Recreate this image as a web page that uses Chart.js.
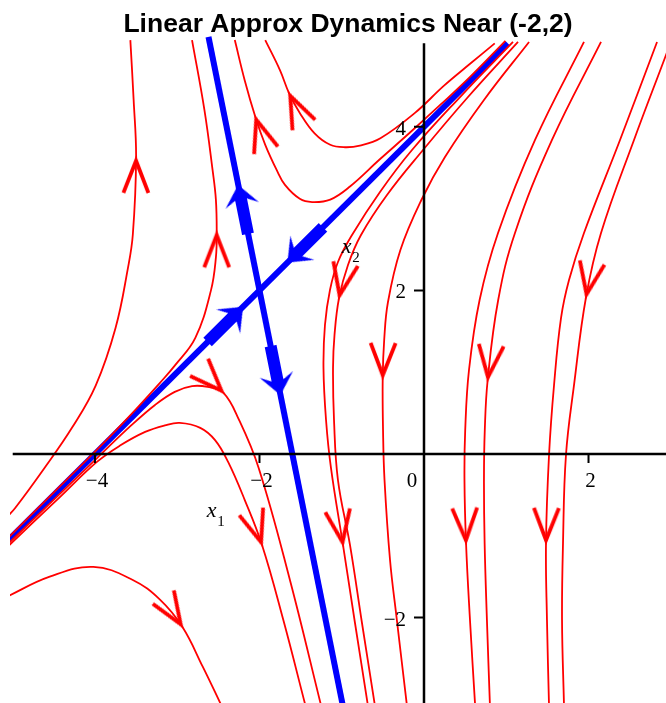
<!DOCTYPE html>
<html>
<head>
<meta charset="utf-8">
<title>Linear Approx Dynamics Near (-2,2)</title>
<script src="https://cdn.jsdelivr.net/npm/chart.js@4.4.0/dist/chart.umd.min.js"></script>
<style>
  html, body { margin: 0; padding: 0; background: #fff; overflow: hidden; }
  canvas { display: block; }
</style>
</head>
<body>
<canvas id="phase" width="666" height="703"></canvas>
<script>
const title = 'Linear Approx Dynamics Near (-2,2)';

// visible window and axis extents
const xView = [-5.033, 2.942];
const yView = [-3.044, 5.11];
const xAxisSpan = [-5, 2.942];
const yAxisSpan = [-3.044, 5.02];
const xTicks = [-4, -2, 0, 2];
const yTicks = [-2, 2, 4];
const x1LabelAt = [-2.64, -0.77];
const x2LabelAt = [-1.0, 2.46];

// separatrices through the saddle (-2,2), each half listed in the direction of flow
const stableFromLeft = [[-5.1, -1.1], [-2, 2]];
const stableFromRight = [[1.02, 5.02], [-2, 2]];
const unstableUp = [[-2, 2], [-2.62, 5.1]];
const unstableDown = [[-2, 2], [-0.99, -3.06]];

// trajectories, points listed in the direction of flow
const c1 = [[-5.08, -0.78], [-4.97, -0.66], [-4.62, -0.18], [-4.28, 0.32], [-3.99, 0.84], [-3.75, 1.54], [-3.6, 2.27], [-3.54, 2.68], [-3.5, 3.62], [-3.53, 4.33], [-3.57, 5.06]];
const c2 = [[-5.1, -1.07], [-4.5, -0.47], [-3.9, 0.13], [-3.5, 0.55], [-3.21, 0.87], [-3.03, 1.08], [-2.78, 1.42], [-2.59, 2.0], [-2.53, 2.4], [-2.52, 2.71], [-2.53, 3.11], [-2.57, 3.47], [-2.67, 4.21], [-2.82, 5.06]];
const u1 = [[0.99, 5.05], [0.56, 4.61], [0.2, 4.27], [-0.17, 3.93], [-0.54, 3.6], [-0.9, 3.27], [-1.14, 3.11], [-1.36, 3.08], [-1.51, 3.12], [-1.69, 3.29], [-1.79, 3.47], [-1.93, 3.78], [-2.05, 4.12], [-2.18, 4.57], [-2.3, 5.06]];
const u2 = [[0.86, 5.02], [0.56, 4.77], [0.24, 4.5], [-0.11, 4.17], [-0.53, 3.86], [-0.78, 3.77], [-0.96, 3.75], [-1.14, 3.78], [-1.33, 3.92], [-1.51, 4.17], [-1.64, 4.41], [-1.75, 4.69], [-1.93, 5.06]];
const r1a = [[1.082, 5.037], [0.438, 4.364], [-0.146, 3.716], [-0.535, 3.203], [-0.875, 2.677], [-1.046, 2.347], [-1.143, 2.005], [-1.204, 1.577], [-1.222, 1.051], [-1.191, 0.416], [-1.131, -0.171], [-0.985, -1.112], [-0.839, -2.066], [-0.681, -3.08]];
const r1b = [[1.143, 5.037], [0.535, 4.364], [-0.012, 3.716], [-0.45, 3.166], [-0.766, 2.677], [-0.924, 2.311], [-1.033, 1.907], [-1.088, 1.455], [-1.106, 1.051], [-1.094, 0.416], [-1.046, -0.318], [-0.9, -1.112], [-0.754, -2.066], [-0.596, -3.08]];
const r2 = [[1.277, 5.037], [0.729, 4.328], [0.255, 3.631], [-0.032, 3.105], [-0.287, 2.494], [-0.438, 1.858], [-0.484, 1.394], [-0.502, 0.929], [-0.498, 0.293], [-0.48, -0.318], [-0.413, -1.296], [-0.334, -1.993], [-0.207, -3.08]];
const r3 = [[1.945, 5.037], [1.35, 3.839], [0.9, 2.702], [0.676, 1.883], [0.547, 1.027], [0.501, 0.293], [0.492, -0.318], [0.511, -1.088], [0.559, -2.029], [0.622, -3.08]];
const r4 = [[2.152, 5.037], [1.556, 3.839], [1.106, 2.702], [0.902, 1.883], [0.774, 0.905], [0.739, 0.293], [0.729, -0.318], [0.737, -1.088], [0.765, -2.029], [0.802, -3.08]];
const r5 = [[2.833, 5.037], [2.383, 3.839], [1.945, 2.702], [1.763, 2.127], [1.666, 1.663], [1.581, 0.844], [1.52, -0.012], [1.483, -1.088], [1.495, -2.029], [1.52, -3.08]];
const r6 = [[3.1, 5.306], [2.942, 4.878], [2.553, 3.839], [2.152, 2.702], [1.97, 1.919], [1.824, 0.844], [1.726, -0.012], [1.69, -1.088], [1.678, -2.029], [1.702, -3.08]];
const l1 = [[-5.08, -1.75], [-4.55, -1.5], [-4.02, -1.38], [-3.54, -1.54], [-3.21, -1.78], [-2.94, -2.11], [-2.69, -2.6], [-2.46, -3.08]];
const l2 = [[-5.08, -1.15], [-4.43, -0.53], [-3.98, -0.1], [-3.7, 0.1], [-3.39, 0.27], [-3.15, 0.35], [-2.97, 0.38], [-2.72, 0.32], [-2.54, 0.17], [-2.38, -0.1], [-2.18, -0.56], [-1.97, -1.11], [-1.71, -2.03], [-1.44, -3.08]];
const l3 = [[-5.08, -1.12], [-4.43, -0.49], [-3.975, -0.05], [-3.57, 0.34], [-3.27, 0.6], [-3.03, 0.76], [-2.82, 0.83], [-2.63, 0.82], [-2.44, 0.75], [-2.25, 0.42], [-2.01, -0.17], [-1.63, -1.54], [-1.25, -3.08]];

// arrowhead tips (each one sits on a curve; it points along the flow there)
const redArrowTips = [[-3.5, 3.62], [-2.52, 2.71], [-2.05, 4.12], [-1.64, 4.41], [-0.985, -1.112], [-1.033, 1.907], [-0.502, 0.929], [0.511, -1.088], [0.774, 0.905], [1.483, -1.088], [1.97, 1.919], [-2.94, -2.11], [-1.97, -1.11], [-2.44, 0.75]];
const blueArrowTips = [[-2.2, 1.8], [-1.66, 2.34], [-2.26, 3.29], [-1.745, 0.72]];

const redCurves = [c1, c2, u1, u2, r1a, r1b, r2, r3, r4, r5, r6, l1, l2, l3];
const blueLines = [stableFromLeft, stableFromRight, unstableUp, unstableDown];

const RED = '#ff0000';
const BLUE = '#0000ff';

const toXY = pts => pts.map(p => ({ x: p[0], y: p[1] }));
const fmt = v => (v < 0 ? '\u2212' + Math.abs(v) : String(v));

// open red "V" arrowhead, pointing right, tip at the sprite centre
function makeRedHead() {
  const c = document.createElement('canvas');
  c.width = 80; c.height = 36;
  const g = c.getContext('2d');
  const tx = 40 - 3, ty = 18;
  g.strokeStyle = RED;
  g.lineWidth = 4;
  g.lineJoin = 'miter';
  g.beginPath();
  g.moveTo(tx - 32, ty - 12.5);
  g.lineTo(tx, ty);
  g.lineTo(tx - 32, ty + 12.5);
  g.stroke();
  return c;
}

// filled blue arrowhead on a thick shaft, pointing right, tip at the sprite centre
function makeBlueHead() {
  const c = document.createElement('canvas');
  c.width = 110; c.height = 44;
  const g = c.getContext('2d');
  const tx = 55, ty = 22;
  g.fillStyle = BLUE;
  g.beginPath();
  g.moveTo(tx, ty);
  g.lineTo(tx - 21, ty - 17);
  g.lineTo(tx - 15, ty - 6);
  g.lineTo(tx - 50, ty - 6);
  g.lineTo(tx - 50, ty + 6);
  g.lineTo(tx - 15, ty + 6);
  g.lineTo(tx - 21, ty + 17);
  g.closePath();
  g.fill();
  return c;
}

// direction of flow (degrees, screen space) at a tip lying on one of the curves
function headingDeg(chart, tip, curves) {
  const sx = chart.scales.x, sy = chart.scales.y;
  const px = p => [sx.getPixelForValue(p[0]), sy.getPixelForValue(p[1])];
  const t = px(tip);
  let best = null;
  curves.forEach(curve => {
    const pts = curve.map(px);
    for (let i = 0; i < pts.length - 1; i++) {
      const a = pts[i], b = pts[i + 1];
      const dx = b[0] - a[0], dy = b[1] - a[1];
      let u = ((t[0] - a[0]) * dx + (t[1] - a[1]) * dy) / (dx * dx + dy * dy);
      u = Math.max(0, Math.min(1, u));
      const d = Math.hypot(a[0] + u * dx - t[0], a[1] + u * dy - t[1]);
      if (!best || d < best.d) best = { d, pts, i, u };
    }
  });
  const { pts, i, u } = best;
  let a = pts[i], b = pts[i + 1];
  if (u < 0.02 && i > 0) a = pts[i - 1];
  if (u > 0.98 && i + 2 < pts.length) b = pts[i + 2];
  return Math.atan2(b[1] - a[1], b[0] - a[0]) * 180 / Math.PI;
}

// axes through the origin, tick marks, labels and title
const axesPlugin = {
  id: 'axesThroughOrigin',
  afterDatasetsDraw(chart) {
    const { ctx } = chart;
    const x = chart.scales.x, y = chart.scales.y;
    const ox = x.getPixelForValue(0);
    const oy = y.getPixelForValue(0);
    ctx.save();
    ctx.strokeStyle = '#000';
    ctx.lineWidth = 2.5;
    ctx.beginPath();
    ctx.moveTo(x.getPixelForValue(xAxisSpan[0]), oy);
    ctx.lineTo(x.getPixelForValue(xAxisSpan[1]), oy);
    ctx.moveTo(ox, y.getPixelForValue(yAxisSpan[1]));
    ctx.lineTo(ox, y.getPixelForValue(yAxisSpan[0]));
    ctx.stroke();

    ctx.lineWidth = 2;
    ctx.beginPath();
    xTicks.filter(v => v !== 0).forEach(v => {
      const p = x.getPixelForValue(v);
      ctx.moveTo(p, oy);
      ctx.lineTo(p, oy + 9);
    });
    yTicks.forEach(v => {
      const p = y.getPixelForValue(v);
      ctx.moveTo(ox, p);
      ctx.lineTo(ox - 10, p);
    });
    ctx.stroke();

    ctx.fillStyle = '#000';
    ctx.font = '21px "Liberation Serif"';
    ctx.textBaseline = 'alphabetic';
    ctx.textAlign = 'center';
    xTicks.forEach(v => {
      const p = x.getPixelForValue(v);
      ctx.fillText(fmt(v), v === 0 ? p - 12 : p + 2, oy + 33);
    });
    ctx.textAlign = 'right';
    yTicks.forEach(v => {
      ctx.fillText(fmt(v), ox - 18, y.getPixelForValue(v) + 8);
    });

    // x1 / x2 axis names
    ctx.textAlign = 'left';
    [[x1LabelAt, '1'], [x2LabelAt, '2']].forEach(([at, sub]) => {
      const px = x.getPixelForValue(at[0]);
      const py = y.getPixelForValue(at[1]);
      ctx.font = 'italic 22px "Liberation Serif"';
      ctx.fillText('x', px, py);
      ctx.font = '15px "Liberation Serif"';
      ctx.fillText(sub, px + 10.5, py + 9);
    });

    ctx.font = 'bold 26.5px "Liberation Sans"';
    ctx.textAlign = 'center';
    ctx.fillText(title, 348, 32);
    ctx.restore();
  }
};

const datasets = [];

blueLines.forEach(line => datasets.push({
  data: toXY(line),
  showLine: true,
  borderColor: BLUE,
  borderWidth: 6,
  borderCapStyle: 'butt',
  pointRadius: 0,
  tension: 0,
  order: 4
}));

redCurves.forEach(curve => datasets.push({
  data: toXY(curve),
  showLine: true,
  borderColor: RED,
  borderWidth: 1.8,
  pointRadius: 0,
  tension: 0.4,
  order: 3
}));

const blueHead = makeBlueHead();
const redHead = makeRedHead();

datasets.push({
  data: toXY(blueArrowTips),
  showLine: false,
  pointStyle: blueHead,
  pointRadius: 5,
  rotation: ctx => headingDeg(ctx.chart, blueArrowTips[ctx.dataIndex], blueLines),
  order: 2
});

datasets.push({
  data: toXY(redArrowTips),
  showLine: false,
  pointStyle: redHead,
  pointRadius: 5,
  rotation: ctx => headingDeg(ctx.chart, redArrowTips[ctx.dataIndex], redCurves),
  order: 1
});

const chart = new Chart(document.getElementById('phase').getContext('2d'), {
  type: 'scatter',
  data: { datasets },
  options: {
    responsive: false,
    animation: false,
    devicePixelRatio: 1,
    events: [],
    layout: { autoPadding: false, padding: { left: 10, right: 0, top: 36, bottom: 0 } },
    elements: { line: { capBezierPoints: false } },
    scales: {
      x: { type: 'linear', min: xView[0], max: xView[1], display: false },
      y: { type: 'linear', min: yView[0], max: yView[1], display: false }
    },
    plugins: { legend: { display: false }, tooltip: { enabled: false } }
  },
  plugins: [axesPlugin]
});
</script>
</body>
</html>
